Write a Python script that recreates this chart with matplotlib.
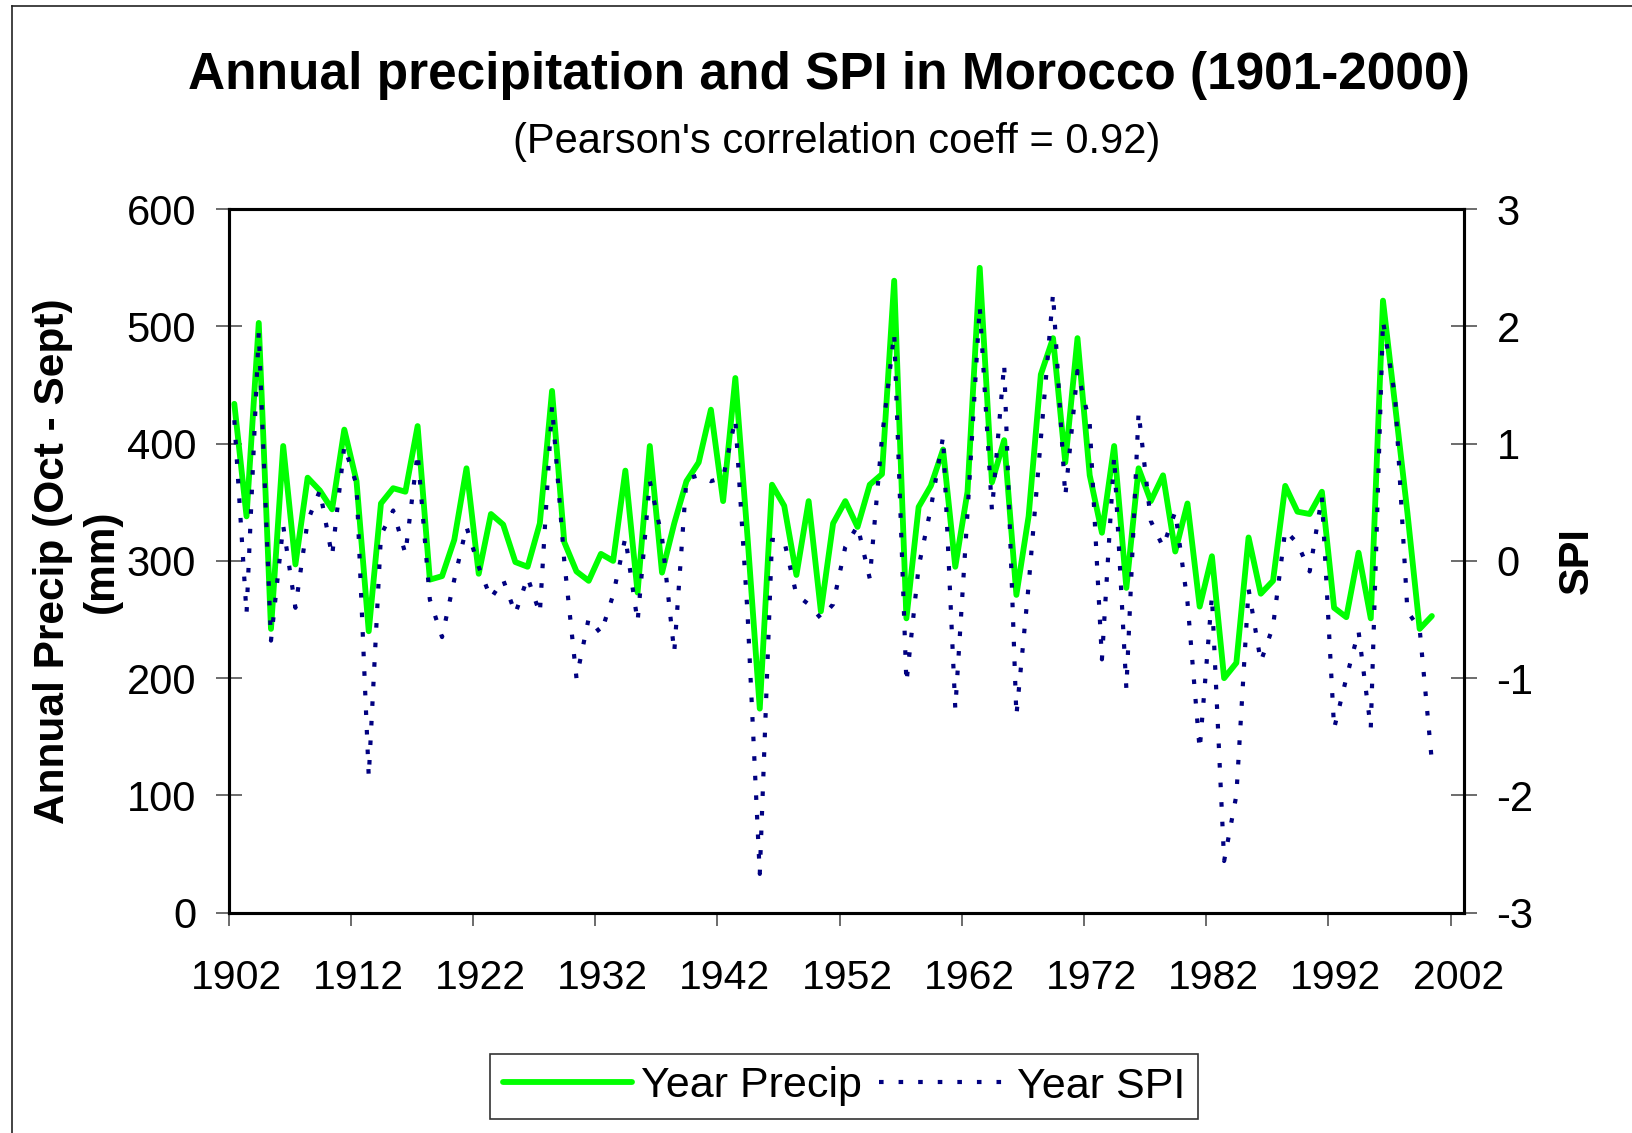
import numpy as np
import matplotlib
matplotlib.use("Agg")
import matplotlib.pyplot as plt
import matplotlib.transforms as mtransforms
from matplotlib.lines import Line2D

plt.rcParams['font.family'] = ['Liberation Sans', 'DejaVu Sans']
plt.rcParams['axes.unicode_minus'] = False

# ── Data (hydrological years Oct-Sept, 1902..2000) ──
years = list(range(1902, 2001))

year_precip = [
    434, 338, 503, 242, 398, 297, 371, 360, 344, 412,
    368, 240, 349, 362, 359, 415, 284, 287, 318, 379,
    289, 340, 331, 299, 295, 332, 445, 316, 291, 283,
    306, 300, 377, 273, 398, 290, 332, 368, 384, 429,
    351, 456, 320, 174, 365, 347, 288, 351, 257, 332,
    351, 329, 365, 374, 539, 251, 346, 364, 395, 295,
    359, 550, 367, 403, 271, 338, 459, 490, 384, 490,
    373, 324, 398, 277, 379, 351, 373, 308, 349, 261,
    304, 200, 213, 320, 272, 283, 364, 342, 340, 359,
    260, 252, 307, 251, 522, 432, 341, 242, 253,
]

year_spi = [
    1.20, -0.45, 1.95, -0.68, 0.30, -0.40, 0.34, 0.60, 0.04, 0.98,
    0.65, -1.84, 0.22, 0.43, 0.06, 0.92, -0.33, -0.65, -0.16, 0.29,
    -0.05, -0.32, -0.16, -0.45, -0.14, -0.45, 1.32, 0.00, -1.00, -0.49,
    -0.62, -0.29, 0.20, -0.52, 0.68, 0.20, -0.78, 0.70, 0.73, 0.68,
    0.71, 1.21, -0.45, -2.67, 0.18, 0.17, -0.29, -0.37, -0.49, -0.37,
    0.12, 0.30, -0.15, 1.05, 1.94, -1.04, -0.05, 0.45, 1.06, -1.26,
    0.41, 2.17, 0.43, 1.68, -1.32, -0.21, 1.04, 2.28, 0.55, 1.62,
    1.17, -0.84, 0.89, -1.09, 1.27, 0.34, 0.12, 0.42, -0.35, -1.61,
    -0.30, -2.56, -2.00, -0.24, -0.86, -0.56, 0.26, 0.15, -0.09, 0.55,
    -1.43, -1.00, -0.60, -1.43, 2.05, 1.39, -0.43, -0.58, -1.71,
]

x_labels = [str(y) for y in range(1902, 2003, 10)]
precip_ticks = list(range(0, 601, 100))
spi_ticks = list(range(-3, 4))

# ── Figure ──
W, H = 1632, 1133
fig = plt.figure(figsize=(W / 100, H / 100), dpi=100)
fig.patch.set_facecolor('white')

ax_w = 1464 - 228.7
ax = fig.add_axes([228.7 / W, 1 - 912.6 / H, ax_w / W, (912.6 - 209.2) / H])
ax2 = ax.twinx()

ax.plot(years, year_precip, color='#00FF00', lw=4.2, solid_joinstyle='round',
        solid_capstyle='round', label='Year Precip')
ax2.plot(years, year_spi, color='#000080', lw=3.0, linestyle=(0, (1.1, 3.6)),
         dash_capstyle='butt', label='Year SPI')

# category-style x axis: labels sit half a year left of the first point
xmin = 1901.54
ax.set_xlim(xmin, 2002.63)
ax.set_xticks([xmin + 10 * k for k in range(len(x_labels))])
ax.set_xticklabels(x_labels)

ax.set_ylim(0, 600)
ax.set_yticks(precip_ticks)
ax2.set_ylim(-3, 3)
ax2.set_yticks(spi_ticks)

for a in (ax, ax2):
    for s in a.spines.values():
        s.set_linewidth(2.2)
        s.set_color('black')

ax.tick_params(axis='y', direction='inout', length=18.7, width=1.1, color='#444444',
               labelsize=30, pad=14)
ax.tick_params(axis='x', direction='out', length=9.4, width=1.1, color='#444444',
               labelsize=29.5, pad=24)
ax2.tick_params(axis='y', direction='inout', length=18.7, width=1.1, color='#444444',
                labelsize=30, pad=14)

# year labels sit a few pixels right of their tick marks
shift = mtransforms.ScaledTranslation(7.5 / 100, 0, fig.dpi_scale_trans)
for lbl in ax.get_xticklabels():
    lbl.set_transform(lbl.get_transform() + shift)

ax.set_ylabel('Annual Precip (Oct - Sept)\n(mm)', fontsize=30.5, fontweight='bold',
              linespacing=1.3)
ax.yaxis.set_label_coords((122 - 228.7) / ax_w, 0.5)
ax2.set_ylabel('SPI', fontsize=30, fontweight='bold')
ax2.yaxis.set_label_coords((1557 - 228.7) / ax_w, 0.5)

# ── Titles ──
fig.text(829 / W, 1 - 76 / H, 'Annual precipitation and SPI in Morocco (1901-2000)',
         ha='center', va='center', fontsize=37, fontweight='bold')
fig.text(837 / W, 1 - 142 / H, "(Pearson's correlation coeff = 0.92)",
         ha='center', va='center', fontsize=30)

# ── Legend ──
handles = [ax.get_lines()[0], ax2.get_lines()[0]]
leg = fig.legend(handles, [h.get_label() for h in handles], loc='center',
                 bbox_to_anchor=(844 / W, 1 - 1086.5 / H), ncol=2, fontsize=31,
                 frameon=True, fancybox=False, handlelength=3.0, handletextpad=0.2,
                 columnspacing=0.4, borderpad=0.3, borderaxespad=0)
leg.get_frame().set_edgecolor('black')
leg.get_frame().set_linewidth(1.2)

# ── Chart area border (left and top edges visible) ──
bx, by = 11.7 / W, 1 - 5.7 / H
fig.add_artist(Line2D([bx, bx], [0, by], transform=fig.transFigure, color='#222222', lw=1.2))
fig.add_artist(Line2D([bx, 1], [by, by], transform=fig.transFigure, color='#222222', lw=1.2))

fig.savefig('out.png', dpi=100)
